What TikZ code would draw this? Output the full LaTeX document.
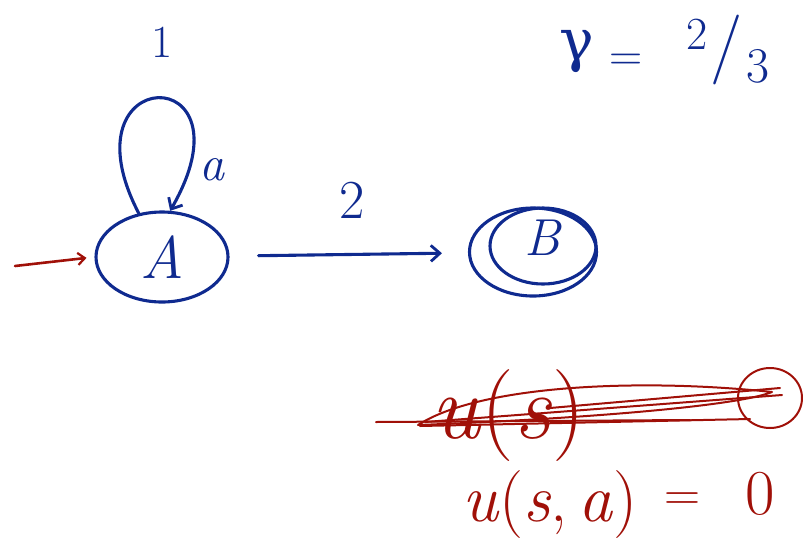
\documentclass[tikz,border=0pt]{standalone}
\usepackage{fontspec}
\newfontfamily\greekfont{DejaVu Serif}
\usetikzlibrary{arrows.meta,shapes.geometric}
\definecolor{ink}{HTML}{0F2A8F}
\definecolor{redink}{HTML}{A01008}
\begin{document}
\begin{tikzpicture}[x=1pt,y=-1pt,
  pen/.style={line width=3.1pt,line cap=round,line join=round},
  stroke/.style={pen,draw=ink},
  redstroke/.style={line width=2pt,line cap=round,line join=round,draw=redink},
  state/.style={ellipse,stroke,inner sep=0pt,text=ink},
  hand/.style={text=ink,inner sep=0pt},
  redhand/.style={text=redink,inner sep=0pt},
  tip/.style={-{Straight Barb[length=9pt,width=16pt,line width=2.8pt]}}
]
\useasboundingbox (0,0) rectangle (803,555);
% states
\node[state,minimum width=132pt,minimum height=90pt,font=\fontsize{60}{66}\selectfont\itshape] (A) at (162,257) {A};
\node[state,minimum width=127pt,minimum height=88pt] (B) at (533,252) {};
\draw[stroke] (543,246) ellipse (53pt and 38pt);
\node[hand,font=\fontsize{52}{58}\selectfont\itshape] (Blab) at (542,238) {B};
% self loop
\draw[stroke,tip] (A.118) .. controls (60,62) and (258,58) .. (A.80);
\node[hand,font=\fontsize{50}{56}\selectfont\itshape] (act) at (212,170) {a};
\node[hand,font=\fontsize{46}{52}\selectfont] (r1) at (162,42) {1};
% transition
\draw[stroke,tip,shorten <=29pt,shorten >=26pt] (A) -- (B);
\node[hand,font=\fontsize{55}{60}\selectfont] (r2) at (352,200) {2};
% start arrow
\coordinate (s0) at (15,266);
\draw[redstroke,line width=2.6pt,-{Straight Barb[length=7pt,width=12pt,line width=2.2pt]},shorten >=8pt] (s0) -- (A.west);
% discount
\node[hand,font=\fontsize{58}{64}\selectfont\greekfont] (g) at (577,52) {γ};
\node[hand,font=\fontsize{46}{52}\selectfont] (eq1) at (626,62) {=};
\node[hand,font=\fontsize{46}{52}\selectfont] (n2) at (697,34) {2};
\node[hand,font=\fontsize{70}{76}\selectfont] (sl) at (727,50) {/};
\node[hand,font=\fontsize{50}{56}\selectfont] (n3) at (758,66) {3};
% struck-out utility
\node[redhand,font=\fontsize{92}{98}\selectfont] (us) at (508,416) {\textit{u}(\textit{s})};
\draw[redstroke] (770,398) ellipse (32pt and 30pt);
\draw[redstroke] (376,422) -- (690,420);
\draw[redstroke] (418,425) .. controls (480,385) and (640,378) .. (772,392) .. controls (740,405) and (600,418) .. (418,425);
\draw[redstroke] (425,422) -- (782,395);
\draw[redstroke] (550,408) -- (780,388);
\draw[redstroke] (420,426) -- (750,419);
% action utility
\node[redhand,font=\fontsize{68}{74}\selectfont] (usa) at (550,505) {\textit{u}(\textit{s},\,\textit{a})};
\node[redhand,font=\fontsize{50}{56}\selectfont] (eq2) at (682,502) {=};
\node[redhand,font=\fontsize{64}{70}\selectfont] (zero) at (760,494) {0};
\end{tikzpicture}
\end{document}
